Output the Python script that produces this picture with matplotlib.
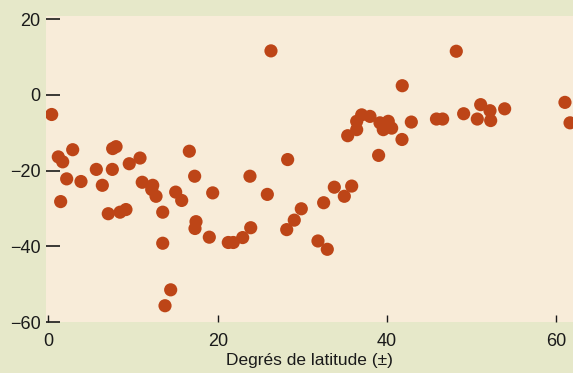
import matplotlib
matplotlib.use("Agg")
import matplotlib.pyplot as plt


# latitude (degrees, +/-) and value
LATITUDE = [
    0.40, 1.18, 1.70, 1.46, 2.17, 2.88, 3.86, 5.67, 6.38, 7.08,
    7.56, 7.60, 8.00, 8.47, 9.17, 9.56, 10.83, 11.09, 12.33, 12.21,
    12.72, 13.51, 13.51, 14.45, 13.78, 15.04, 15.75, 16.65, 17.28, 17.44,
    17.32, 19.01, 19.41, 21.25, 21.84, 22.95, 23.81, 23.90, 25.86, 26.29,
    28.15, 28.26, 29.04, 29.87, 31.84, 32.51, 32.94, 33.77, 34.95, 35.35,
    35.82, 36.41, 36.41, 37.00, 37.98, 39.00, 39.16, 39.55, 40.14, 40.54,
    41.79, 41.76, 42.86, 45.83, 46.56, 48.17, 49.04, 50.65, 51.05, 52.15,
    52.23, 53.88, 61.00, 61.60,
]
VALUES = [
    -5.2, -16.4, -17.7, -28.2, -22.2, -14.5, -22.9, -19.7, -23.9, -31.4,
    -19.7, -14.2, -13.7, -31.0, -30.3, -18.2, -16.7, -23.1, -23.9, -25.0,
    -26.8, -31.0, -39.2, -51.5, -55.7, -25.7, -27.9, -14.9, -21.5, -33.5,
    -35.3, -37.6, -25.9, -39.0, -39.0, -37.7, -21.5, -35.1, -26.3, 11.6,
    -35.6, -17.1, -33.1, -30.1, -38.6, -28.5, -40.8, -24.4, -26.8, -10.8,
    -24.1, -9.2, -7.0, -5.3, -5.7, -16.0, -7.4, -9.2, -7.0, -8.8,
    2.4, -11.8, -7.2, -6.4, -6.4, 11.5, -5.0, -6.4, -2.6, -4.2,
    -6.8, -3.7, -2.0, -7.4,
]
X_TICKS = [0, 20, 40, 60]
Y_TICKS = [20, 0, -20, -40, -60]
X_LABEL = "Degrés de latitude (±)"

OUTER_BG = "#E6E8C9"
INNER_BG = "#F8ECD9"
DOT = "#BD4517"


def main():
    plt.rcParams["font.family"] = ["Liberation Sans", "DejaVu Sans"]
    fig = plt.figure(figsize=(5.73, 3.73), dpi=100, facecolor=OUTER_BG)
    ax = fig.add_axes([0.0803, 0.1367, 0.9197, 0.8203])
    ax.set_facecolor(INNER_BG)

    ax.scatter(LATITUDE, VALUES, s=90, color=DOT, edgecolors="none",
               zorder=3, clip_on=True)

    ax.set_xlim(-0.27, 61.95)
    ax.set_ylim(-59.8, 20.8)
    ax.set_xticks(X_TICKS)
    ax.set_yticks(Y_TICKS)
    ax.set_yticklabels([str(v).replace("-", "\u2212") for v in Y_TICKS])

    for side in ax.spines.values():
        side.set_visible(False)

    ax.tick_params(axis="y", direction="in", length=10, width=1.2,
                   pad=4, labelsize=13, colors="#1a1a1a")
    ax.tick_params(axis="x", direction="in", length=5, width=1.0,
                   pad=8, labelsize=13, colors="#1a1a1a")

    ax.set_xlabel(X_LABEL, fontsize=12.5, color="#1a1a1a", labelpad=2,
                  family=["Liberation Sans Narrow", "Liberation Sans", "DejaVu Sans"])

    fig.savefig("out.png", dpi=100, facecolor=OUTER_BG)
    plt.close(fig)


if __name__ == "__main__":
    main()
